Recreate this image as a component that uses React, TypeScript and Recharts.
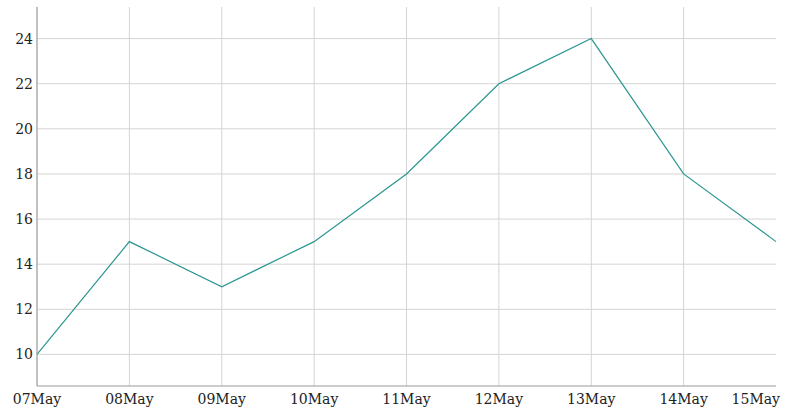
import React from "react";
import { LineChart, Line, XAxis, YAxis, CartesianGrid } from "recharts";

const categories = ["07May", "08May", "09May", "10May", "11May", "12May", "13May", "14May", "15May"];
const values = [10, 15, 13, 15, 18, 22, 24, 18, 15];
const yTicks = [10, 12, 14, 16, 18, 20, 22, 24];

const data = categories.map((c, i) => ({ name: c, value: values[i] }));
const gridCategories = categories.slice(0, -1);

const FONT = "'DejaVu Serif', serif";

const XTick = (props: any) => {
  const { x, y, payload, index } = props;
  const last = index === categories.length - 1;
  return (
    <text
      x={last ? x + 4 : x}
      y={y}
      dy="0.71em"
      textAnchor={last ? "end" : "middle"}
      fill="#222"
      fontSize={14}
      fontFamily={FONT}
    >
      {payload.value}
    </text>
  );
};

export default function App() {
  return (
    <div style={{ position: "absolute", left: 0, top: 0 }}>
      <LineChart width={794} height={414} data={data} margin={{ top: 7, right: 18, bottom: 0, left: 0 }}>
        <CartesianGrid stroke="#d4d4d4" horizontalValues={yTicks} verticalValues={gridCategories} />
        <XAxis
          dataKey="name"
          height={28}
          tickLine={false}
          tickSize={0}
          tickMargin={8}
          axisLine={{ stroke: "#999" }}
          tick={<XTick />}
          interval={0}
        />
        <YAxis
          width={37}
          domain={[8.6, 25.4]}
          ticks={yTicks}
          tickLine={false}
          tickSize={0}
          tickMargin={4}
          axisLine={{ stroke: "#999" }}
          tick={{ fill: "#222", fontSize: 14, fontFamily: FONT }}
        />
        <Line
          type="linear"
          dataKey="value"
          stroke="#2a9690"
          strokeWidth={1.2}
          dot={false}
          isAnimationActive={false}
        />
      </LineChart>
    </div>
  );
}
